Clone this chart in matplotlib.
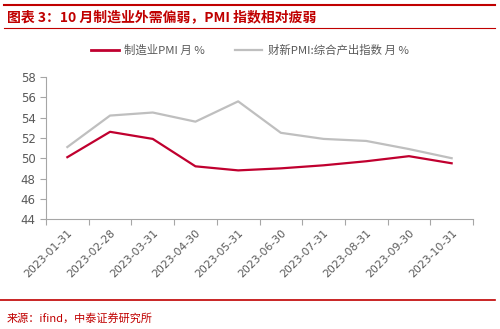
import matplotlib
matplotlib.use("Agg")
import matplotlib.pyplot as plt
from matplotlib.lines import Line2D

plt.rcParams['font.family'] = ['Noto Sans CJK SC', 'DejaVu Sans']

# 数据
dates = ['2023-01-31', '2023-02-28', '2023-03-31', '2023-04-30', '2023-05-31',
         '2023-06-30', '2023-07-31', '2023-08-31', '2023-09-30', '2023-10-31']
pmi_mfg = [50.1, 52.6, 51.9, 49.2, 48.8, 49.0, 49.3, 49.7, 50.2, 49.5]
caixin_comp = [51.1, 54.2, 54.5, 53.6, 55.6, 52.5, 51.9, 51.7, 50.9, 50.0]
y_ticks = [44, 46, 48, 50, 52, 54, 56, 58]

red = '#c0002f'
grey = '#bfbfbf'
txt = '#595959'
head_red = '#c00000'

fig = plt.figure(figsize=(5, 3.29), dpi=100)
ax = fig.add_axes([0.092, 0.334, 0.854, 0.432])

x = list(range(len(dates)))
ax.plot(x, caixin_comp, color=grey, lw=1.6)
ax.plot(x, pmi_mfg, color=red, lw=1.6)

ax.set_xlim(-0.5, len(dates) - 0.5)
ax.set_ylim(44, 58)
ax.set_yticks(y_ticks)
ax.set_xticks([i - 0.5 for i in range(len(dates) + 1)], minor=False)
ax.set_xticklabels([])
ax.set_xticks(x, minor=True)
ax.set_xticklabels(dates, minor=True, rotation=45, ha='right', rotation_mode='anchor',
                   fontsize=7.8, color=txt, family='DejaVu Sans')
ax.tick_params(axis='x', which='major', length=4, color='#a6a6a6', direction='out')
ax.tick_params(axis='x', which='minor', length=0, pad=6)
ax.tick_params(axis='y', length=4, color='#a6a6a6', labelsize=8.5, labelcolor=txt)
for lab in ax.get_yticklabels():
    lab.set_family('DejaVu Sans')

for s in ['top', 'right']:
    ax.spines[s].set_visible(False)
for s in ['left', 'bottom']:
    ax.spines[s].set_color('#a6a6a6')
    ax.spines[s].set_linewidth(0.8)

handles = [Line2D([], [], color=red, lw=2), Line2D([], [], color=grey, lw=1.6)]
labels = ['制造业PMI 月 %', '财新PMI:综合产出指数 月 %']
fig.legend(handles, labels, loc='center', bbox_to_anchor=(0.5, 0.848), ncol=2,
           frameon=False, fontsize=8.2, labelcolor=txt, handlelength=2.4,
           columnspacing=2.6, handletextpad=0.5)

# 标题与来源
fig.add_artist(Line2D([0.008, 0.99], [1 - 5/329, 1 - 5/329], color=head_red, lw=1.5))
fig.add_artist(Line2D([0.008, 0.99], [1 - 28/329, 1 - 28/329], color=head_red, lw=0.8))
fig.text(0.014, 1 - 17/329, '图表 3：10 月制造业外需偏弱，PMI 指数相对疲弱', color=head_red,
         fontsize=10, fontweight='bold', fontstyle='italic', va='center')
fig.add_artist(Line2D([0.0, 0.99], [1 - 300/329, 1 - 300/329], color=head_red, lw=1.2))
fig.text(0.014, 1 - 318/329, '来源：ifind，中泰证券研究所', color=head_red, fontsize=8, va='center')

fig.savefig('out.png', dpi=100)
